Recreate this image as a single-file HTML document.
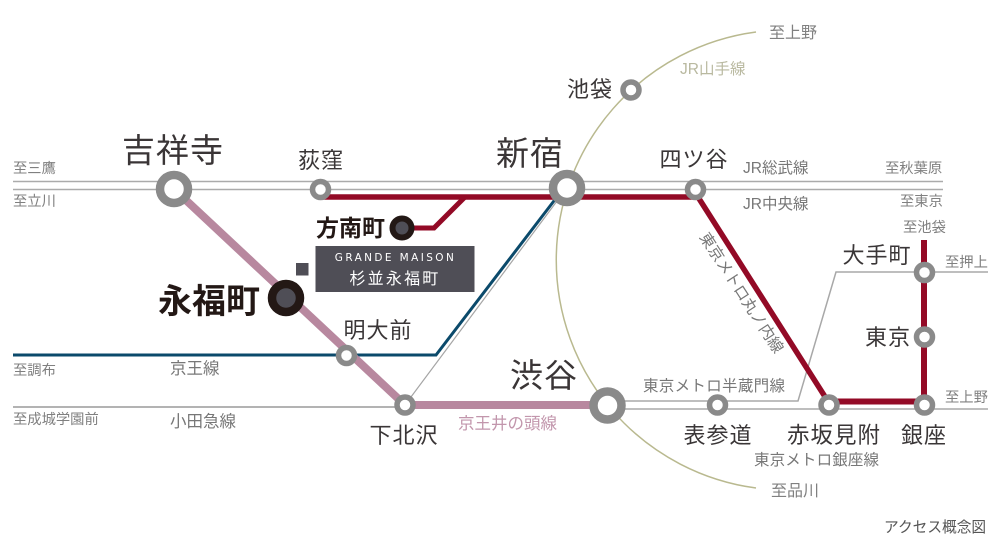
<!DOCTYPE html>
<html lang="ja"><head><meta charset="utf-8"><title>アクセス概念図</title>
<style>
html,body{margin:0;padding:0;background:#fff;width:1000px;height:543px;overflow:hidden}
svg{display:block}
text{font-family:"Liberation Sans","Noto Sans CJK JP",sans-serif;}
.big{font-size:33px;fill:#3a3536;text-anchor:middle;letter-spacing:1px}
.st{font-size:22px;fill:#3a3637;text-anchor:middle;letter-spacing:1px}
.ln{font-size:16.500px;fill:#777;}
.to{font-size:14.300px;fill:#808080;}
</style></head><body>
<svg width="1000" height="543" viewBox="0 0 1000 543" xmlns="http://www.w3.org/2000/svg">
<path d="M756 32A230 230 0 0 0 756 488" fill="none" stroke="#b9b98f" stroke-width="1.5"/>
<path d="M13 181.5H943M13 189.5H943" stroke="#ababab" stroke-width="1.5" fill="none"/>
<path d="M13 407H405" stroke="#b3b3b3" stroke-width="2" fill="none"/>
<path d="M405 405L563 193" stroke="#a5a5a5" stroke-width="1.2" fill="none"/>
<path d="M607 401H798L836 272H988M607 409H988" stroke="#a8a8a8" stroke-width="1.5" fill="none"/>
<path d="M13 355H436L560 193" stroke="#0b4a6b" stroke-width="3" fill="none"/>
<path d="M320 197H698L829 403" stroke="#930a26" stroke-width="5.5" fill="none"/>
<path d="M465 197L434 228H402" stroke="#930a26" stroke-width="5" fill="none"/>
<path d="M829 401.500H924V240" stroke="#930a26" stroke-width="6" fill="none"/>
<path d="M174 189L405 405H607" stroke="#b8889f" stroke-width="8" fill="none"/>
<g fill="#fff" stroke="#8a8a8a">
<circle cx="174" cy="189" r="14" stroke-width="8.500"/>
<circle cx="567" cy="188" r="14" stroke-width="8.500"/>
<circle cx="607.500" cy="405.500" r="14" stroke-width="8.500"/>
<circle cx="320.500" cy="189.500" r="8" stroke-width="5.500"/>
<circle cx="631" cy="90" r="8" stroke-width="5.500"/>
<circle cx="695.500" cy="189.500" r="8" stroke-width="5.500"/>
<circle cx="346.500" cy="355.500" r="8" stroke-width="5.500"/>
<circle cx="405" cy="405" r="8" stroke-width="5.500"/>
<circle cx="717.500" cy="405" r="8" stroke-width="5.500"/>
<circle cx="829" cy="405" r="8" stroke-width="5.500"/>
<circle cx="924.500" cy="405" r="8" stroke-width="5.500"/>
<circle cx="924.500" cy="337" r="8" stroke-width="5.500"/>
<circle cx="924.500" cy="272.500" r="8" stroke-width="5.500"/>
</g>
<circle cx="402" cy="228" r="9.500" fill="#4f4e56" stroke="#231815" stroke-width="6"/>
<circle cx="286" cy="298" r="14" fill="#4f4e56" stroke="#231815" stroke-width="8.500"/>
<rect x="296" y="263" width="12.500" height="12.500" fill="#4f4e56"/>
<rect x="315.500" y="246" width="159" height="46" fill="#4f4e56"/>
<text x="395.500" y="261" text-anchor="middle" font-size="10.500" fill="#fff" letter-spacing="2.400" style='font-family:"DejaVu Sans",sans-serif'>GRANDE MAISON</text>
<text x="395" y="284" text-anchor="middle" font-size="16" fill="#fff" letter-spacing="2.200">杉並永福町</text>
<text class="big" x="173" y="162">吉祥寺</text>
<text class="big" x="530" y="165" textLength="68">新宿</text>
<text class="big" x="544" y="387">渋谷</text>
<text class="st" x="321" y="168">荻窪</text>
<text class="st" x="590" y="97">池袋</text>
<text class="st" x="694" y="167">四ツ谷</text>
<text class="st" x="378" y="338">明大前</text>
<text class="st" x="404" y="443">下北沢</text>
<text class="st" x="718" y="443">表参道</text>
<text x="834" y="443" text-anchor="middle" font-size="22.500" fill="#3a3637" letter-spacing="1">赤坂見附</text>
<text class="st" x="924" y="443">銀座</text>
<text class="st" x="888" y="345">東京</text>
<text class="st" x="877" y="263">大手町</text>
<text x="350.500" y="236" text-anchor="middle" font-size="23" font-weight="700" fill="#231815">方南町</text>
<text x="209" y="313" text-anchor="middle" font-size="34" font-weight="700" fill="#231815">永福町</text>
<text class="to" x="13" y="173">至三鷹</text>
<text class="to" x="13" y="206">至立川</text>
<text class="to" x="13" y="375">至調布</text>
<text class="to" x="13" y="424">至成城学園前</text>
<text class="to" x="769" y="38" style="font-size:16px">至上野</text>
<text class="to" x="885" y="173">至秋葉原</text>
<text class="to" x="900" y="206">至東京</text>
<text class="to" x="903" y="232">至池袋</text>
<text class="to" x="945" y="267">至押上</text>
<text class="to" x="945" y="402">至上野</text>
<text class="to" x="771" y="496" style="font-size:16px">至品川</text>
<text class="ln" x="170" y="374">京王線</text>
<text class="ln" x="170" y="427">小田急線</text>
<text class="ln" x="458" y="429" style="fill:#c296ac">京王井の頭線</text>
<text class="ln" x="680" y="74" style="fill:#b9b9a0;font-size:15.5px">JR山手線</text>
<text class="ln" x="743" y="173" style="font-size:15.5px">JR総武線</text>
<text class="ln" x="743" y="209" style="font-size:15.5px">JR中央線</text>
<text class="ln" x="643" y="391" textLength="142" style="font-size:15.5px">東京メトロ半蔵門線</text>
<text class="ln" x="754" y="465" textLength="125" style="font-size:15.5px">東京メトロ銀座線</text>
<text class="ln" transform="translate(699 237) rotate(57)" textLength="140" style="font-size:15.5px">東京メトロ丸ノ内線</text>
<text x="884" y="532" font-size="14.700" fill="#555">アクセス概念図</text>
</svg>
</body></html>
